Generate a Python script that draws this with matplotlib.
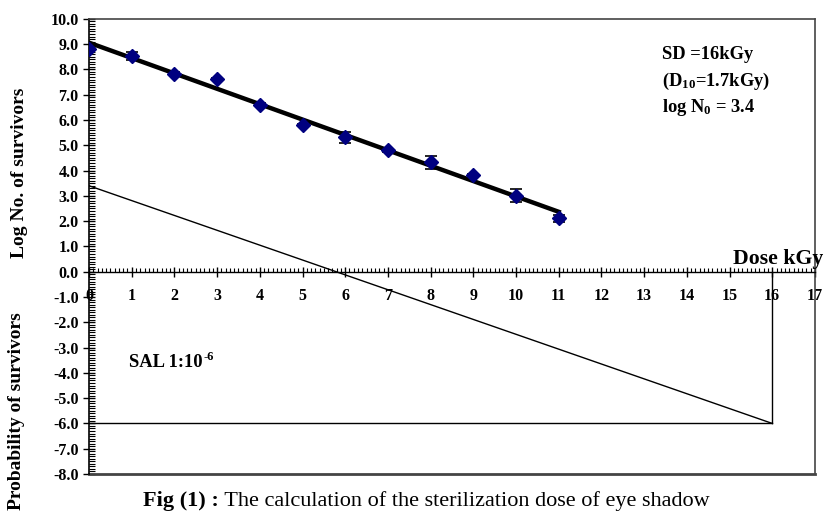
import numpy as np
import matplotlib
matplotlib.use("Agg")
import matplotlib.pyplot as plt
from matplotlib.ticker import MultipleLocator, FormatStrFormatter

plt.rcParams['font.family'] = 'Liberation Serif'
plt.rcParams['font.weight'] = 'bold'
plt.rcParams['axes.unicode_minus'] = False
plt.rcParams['mathtext.fontset'] = 'custom'
plt.rcParams['mathtext.rm'] = 'Liberation Serif:bold'
plt.rcParams['mathtext.bf'] = 'Liberation Serif:bold'
plt.rcParams['mathtext.default'] = 'rm'

# survival data (dose kGy, log no. of survivors)
dose = [0, 1, 2, 3, 4, 5, 6, 7, 8, 9, 10, 11]
log_n = [8.8, 8.54, 7.83, 7.62, 6.61, 5.8, 5.31, 4.8, 4.32, 3.82, 3.0, 2.11]
err = [0.05, 0.16, 0.05, 0.05, 0.05, 0.05, 0.23, 0.05, 0.26, 0.05, 0.26, 0.15]

# extrapolation to SAL 10^-6
log_n0 = 3.4
sal = -6
sd = 16

fit = np.polyfit(dose, log_n, 1)
fit_x = np.array([dose[0], dose[-1]])

fig = plt.figure(figsize=(8.24, 5.12), dpi=100)
ax = fig.add_axes([0.108, 0.0742, 0.881, 0.889])

ax.plot(fit_x, np.polyval(fit, fit_x), color='black', lw=3.2, zorder=3)
ax.errorbar(dose, log_n, yerr=err, fmt='D', color='#000080', ms=7.5,
            ecolor='black', elinewidth=1.2, capsize=4, capthick=1.2, zorder=4)

ax.plot([0, sd], [log_n0, sal], color='black', lw=1)
ax.plot([0, sd], [sal, sal], color='black', lw=1)
ax.plot([sd, sd], [sal, 0], color='black', lw=1)

ax.set_xlim(0, 17)
ax.set_ylim(-8, 10)
ax.xaxis.set_major_locator(MultipleLocator(1))
ax.xaxis.set_minor_locator(MultipleLocator(0.1))
ax.yaxis.set_major_locator(MultipleLocator(1))
ax.yaxis.set_minor_locator(MultipleLocator(0.1))
ax.yaxis.set_major_formatter(FormatStrFormatter('%.1f'))

ax.spines['bottom'].set_position(('data', 0))
ax.spines['bottom'].set_linewidth(1)
ax.spines['left'].set_linewidth(1.2)
for s in ['top', 'right']:
    ax.spines[s].set_color('#444444')
    ax.spines[s].set_linewidth(1.2)
ax.axhline(-8, color='#444444', lw=2, clip_on=False)

ax.tick_params(axis='x', which='major', direction='inout', length=7, width=1,
               labelsize=11.5, pad=8)
ax.tick_params(axis='x', which='minor', direction='in', length=3, width=0.8)
ax.tick_params(axis='y', which='major', direction='inout', length=8, width=1,
               labelsize=11.5, pad=3.5)
ax.tick_params(axis='y', which='minor', direction='in', length=4, width=0.8)

ax.text(13.43, 8.58, 'SD =16kGy', fontsize=13.3, va='center')
ax.text(13.43, 7.51, '(D$_{10}$=1.7kGy)', fontsize=13.3, va='center')
ax.text(13.43, 6.48, 'log N$_0$ = 3.4', fontsize=13.3, va='center')
t_sal = ax.text(0.93, -3.6, 'SAL 1:10', fontsize=13.3, va='center')
ax.annotate('-6', xy=(1, 1), xycoords=t_sal, xytext=(0.5, 2),
            textcoords='offset points', fontsize=9, va='top', ha='left')
ax.text(15.07, 0.5, 'Dose kGy', fontsize=15.7, va='center', clip_on=False)

fig.text(0.024, 0.662, 'Log No. of survivors', rotation=90, fontsize=14,
         ha='center', va='center')
fig.text(0.020, 0.197, 'Probability of survivors', rotation=90, fontsize=14,
         ha='center', va='center')

t1 = fig.text(143 / 824, 0.012, 'Fig (1) :', fontsize=16, va='baseline')
ax.annotate(' The calculation of the sterilization dose of eye shadow',
            xy=(1, 0), xycoords=t1, xytext=(0, 0), textcoords='offset points',
            fontsize=16, fontweight='normal', va='bottom', ha='left',
            annotation_clip=False)

fig.savefig('out.png', dpi=100)
